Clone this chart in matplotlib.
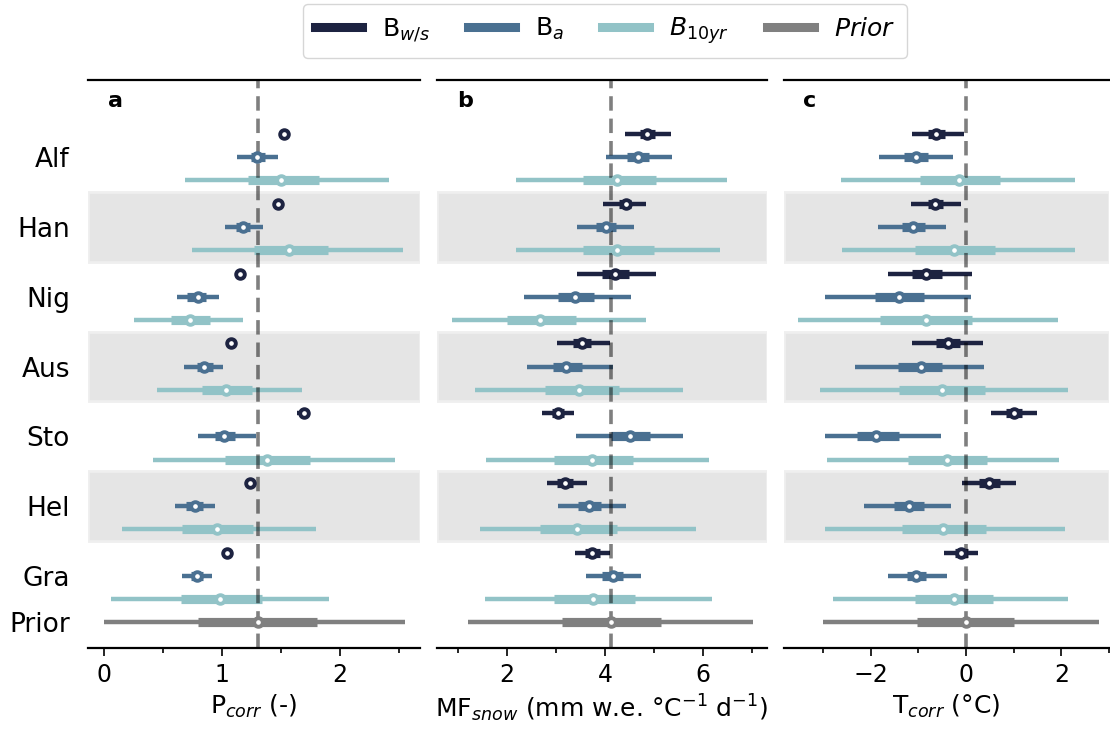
import numpy as np
import matplotlib.pyplot as plt
from matplotlib.lines import Line2D

# Posterior intervals per station: [lo95, lo50, median, hi50, hi95]
stations = ['Alf', 'Han', 'Nig', 'Aus', 'Sto', 'Hel', 'Gra']

# P_corr (-)
pcorr_ws = [[1.50, 1.51, 1.53, 1.55, 1.57],
            [1.45, 1.46, 1.475, 1.49, 1.50],
            [1.13, 1.14, 1.155, 1.17, 1.18],
            [1.06, 1.07, 1.08, 1.09, 1.10],
            [1.64, 1.67, 1.695, 1.72, 1.75],
            [1.21, 1.22, 1.235, 1.25, 1.26],
            [1.03, 1.035, 1.045, 1.055, 1.06]]
pcorr_a = [[1.13, 1.245, 1.30, 1.367, 1.475],
           [1.025, 1.12, 1.175, 1.237, 1.347],
           [0.616, 0.70, 0.794, 0.864, 0.977],
           [0.678, 0.785, 0.845, 0.926, 1.006],
           [0.797, 0.94, 1.017, 1.107, 1.285],
           [0.602, 0.695, 0.768, 0.836, 0.941],
           [0.664, 0.737, 0.788, 0.842, 0.918]]
pcorr_10 = [[0.686, 1.218, 1.50, 1.822, 2.415],
            [0.746, 1.268, 1.57, 1.90, 2.534],
            [0.257, 0.565, 0.729, 0.895, 1.178],
            [0.449, 0.831, 1.034, 1.254, 1.675],
            [0.415, 1.025, 1.384, 1.75, 2.47],
            [0.153, 0.661, 0.955, 1.263, 1.797],
            [0.059, 0.653, 0.983, 1.336, 1.912]]
pcorr_prior = [0.0, 0.80, 1.31, 1.81, 2.55]

# MF_snow (mm w.e. degC-1 d-1)
mf_ws = [[4.40, 4.72, 4.86, 5.03, 5.34],
         [3.97, 4.29, 4.42, 4.54, 4.83],
         [3.42, 3.94, 4.21, 4.49, 5.05],
         [3.02, 3.35, 3.53, 3.72, 4.10],
         [2.72, 2.92, 3.04, 3.17, 3.36],
         [2.81, 3.02, 3.18, 3.35, 3.63],
         [3.38, 3.60, 3.74, 3.89, 4.10]]
mf_a = [[4.03, 4.46, 4.67, 4.90, 5.36],
        [3.42, 3.82, 4.02, 4.23, 4.60],
        [2.34, 3.04, 3.38, 3.78, 4.54],
        [2.41, 2.93, 3.21, 3.53, 4.16],
        [3.40, 4.12, 4.52, 4.93, 5.60],
        [3.04, 3.44, 3.67, 3.92, 4.44],
        [3.61, 3.95, 4.16, 4.36, 4.73]]
mf_10 = [[2.18, 3.55, 4.25, 5.04, 6.49],
         [2.18, 3.55, 4.25, 5.01, 6.34],
         [0.88, 2.00, 2.68, 3.40, 4.83],
         [1.35, 2.77, 3.47, 4.28, 5.60],
         [1.57, 2.96, 3.74, 4.58, 6.13],
         [1.45, 2.67, 3.43, 4.24, 5.87],
         [1.55, 2.96, 3.75, 4.61, 6.19]]
mf_prior = [1.21, 3.12, 4.13, 5.14, 7.02]

# T_corr (degC)
tcorr_ws = [[-1.14, -0.79, -0.63, -0.45, -0.04],
            [-1.15, -0.80, -0.65, -0.48, -0.11],
            [-1.64, -1.14, -0.85, -0.51, 0.13],
            [-1.14, -0.64, -0.38, -0.13, 0.36],
            [0.52, 0.84, 1.00, 1.17, 1.49],
            [-0.08, 0.27, 0.49, 0.71, 1.05],
            [-0.46, -0.23, -0.11, 0.04, 0.25]]
tcorr_a = [[-1.82, -1.31, -1.05, -0.79, -0.27],
           [-1.85, -1.35, -1.12, -0.87, -0.42],
           [-2.95, -1.90, -1.40, -0.89, 0.11],
           [-2.34, -1.43, -0.95, -0.51, 0.38],
           [-2.95, -2.28, -1.88, -1.40, -0.53],
           [-2.15, -1.52, -1.19, -0.88, -0.31],
           [-1.63, -1.24, -1.04, -0.83, -0.41]]
tcorr_10 = [[-2.63, -0.97, -0.15, 0.72, 2.29],
            [-2.61, -1.07, -0.26, 0.61, 2.29],
            [-3.52, -1.81, -0.83, 0.13, 1.94],
            [-3.07, -1.41, -0.51, 0.40, 2.13],
            [-2.91, -1.22, -0.39, 0.44, 1.95],
            [-2.95, -1.35, -0.48, 0.42, 2.08],
            [-2.80, -1.07, -0.26, 0.56, 2.13]]
tcorr_prior = [-3.01, -1.02, 0.0, 1.00, 2.80]

series_labels = ['B$_{w/s}$', 'B$_a$', '$B_{10yr}$', '$Prior$']
colors = ['#1d2341', '#4a7091', '#92c3c7', '#808080']

panels = [
    dict(ws=pcorr_ws, a=pcorr_a, y10=pcorr_10, prior=pcorr_prior,
         xlim=(-0.136, 2.68), major=[0, 1, 2], minor=[0.5, 1.5, 2.5],
         xlabel='P$_{corr}$ (-)', letter='a', left=88, width=332),
    dict(ws=mf_ws, a=mf_a, y10=mf_10, prior=mf_prior,
         xlim=(0.57, 7.31), major=[2, 4, 6], minor=[1, 3, 5, 7],
         xlabel='MF$_{snow}$ (mm w.e. °C$^{-1}$ d$^{-1}$)', letter='b',
         left=437, width=330),
    dict(ws=tcorr_ws, a=tcorr_a, y10=tcorr_10, prior=tcorr_prior,
         xlim=(-3.82, 2.97), major=[-2, 0, 2], minor=[-3, -1, 1, 3],
         xlabel='T$_{corr}$ (°C)', letter='c', left=784, width=325),
]

W, H = 1110, 733
fig = plt.figure(figsize=(W / 100, H / 100), dpi=100)


def draw_interval(ax, y, vals, color):
    lo95, lo50, med, hi50, hi95 = vals
    ax.plot([lo95, hi95], [y, y], color=color, lw=3.2,
            solid_capstyle='butt', zorder=2)
    ax.plot([lo50, hi50], [y, y], color=color, lw=6.6,
            solid_capstyle='butt', zorder=2)
    ax.plot(med, y, 'o', ms=6.2, mew=2.8, mfc='white', mec=color, zorder=4)


for k, p in enumerate(panels):
    ax = fig.add_axes([p['left'] / W, 1 - 648 / H, p['width'] / W, 568 / H])
    # shaded bands behind every second station
    for i in [1, 3, 5]:
        ax.axhspan(3 * i - 0.5, 3 * i + 2.5, facecolor='#e5e5e5',
                   edgecolor='#efefef', lw=2, zorder=0)
    for i in range(len(stations)):
        draw_interval(ax, 3 * i, p['ws'][i], colors[0])
        draw_interval(ax, 3 * i + 1, p['a'][i], colors[1])
        draw_interval(ax, 3 * i + 2, p['y10'][i], colors[2])
    draw_interval(ax, 21, p['prior'], colors[3])
    ax.axvline(p['prior'][2], color='k', alpha=0.5, lw=2.6,
               linestyle=(0, (4, 2.2)), zorder=3)

    ax.set_xlim(*p['xlim'])
    ax.set_ylim(22.1, -2.32)
    ax.set_xticks(p['major'])
    ax.set_xticks(p['minor'], minor=True)
    ax.tick_params(axis='x', which='major', length=6, width=1.2,
                   labelsize=17, pad=5)
    ax.tick_params(axis='x', which='minor', length=3.5, width=1.2)
    ax.set_xlabel(p['xlabel'], fontsize=18, labelpad=4)
    for side in ['left', 'right']:
        ax.spines[side].set_visible(False)
    for side in ['top', 'bottom']:
        ax.spines[side].set_linewidth(1.6)
    if k == 0:
        ax.set_yticks([3 * i + 1 for i in range(len(stations))] + [21])
        ax.set_yticklabels(stations + ['Prior'], fontsize=19)
        ax.tick_params(axis='y', length=0, pad=13)
    else:
        ax.set_yticks([])
    ax.text(0.06, 0.963, p['letter'], transform=ax.transAxes,
            fontsize=16, fontweight='bold', va='center', ha='left')

handles = [Line2D([], [], color=c, lw=6.5) for c in colors]
fig.legend(handles, series_labels, loc='center', bbox_to_anchor=(605 / W, 1 - 31 / H),
           ncol=4, fontsize=18, handlelength=1.9, handletextpad=0.8,
           columnspacing=1.5, frameon=True, edgecolor='#cccccc', fancybox=True,
           borderpad=0.45)

fig.savefig('out.png', dpi=100)
